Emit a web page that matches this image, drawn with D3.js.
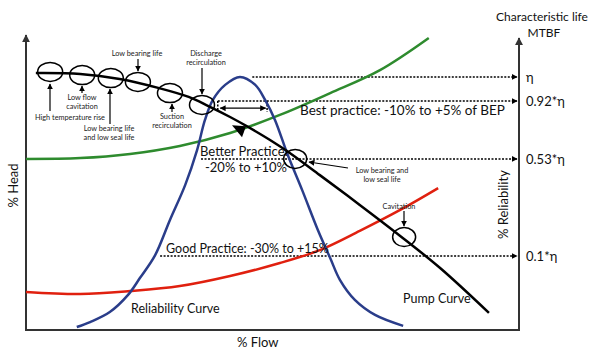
<!DOCTYPE html>
<html lang="en">
  <head>
    <meta charset="UTF-8" />
    <title>Pump Curve and Reliability</title>
    <script src="https://d3js.org/d3.v7.min.js"></script>
    <style>
      body {
        margin: 0;
        background-color: #fff;
        font-family: Lato, "Open Sans", sans-serif;
      }
      .curve {
        fill: none;
        stroke-width: 2.5;
      }
      .axis-line {
        stroke: #333;
        stroke-width: 2;
      }
      .dotted {
        stroke: #000;
        stroke-width: 1.5;
        stroke-dasharray: 2, 1.5;
      }
      .small {
        font-size: 7.3px;
        fill: #222;
      }
      .big {
        font-size: 12.5px;
        fill: #111;
      }
    </style>
  </head>
  <body>
    <div class="chart"></div>

    <script>
      // curves, in % flow / % of axis height
      const pumpFlow = [2, 11, 19, 27, 33, 37, 41.4, 45.4, 49.5, 53.5, 59.6, 67.7, 75.9, 84, 93.9];
      const pumpHead = [87.1, 86.8, 85.1, 82, 79, 75.9, 72.2, 68.5, 64.4, 60, 52.5, 42.4, 31.9, 21, 5.8];

      const relFlow = [10.3, 13, 17, 20.7, 23.1, 26.2, 29.2, 32.3, 34.7, 36.3, 37.9, 40.4, 43.4, 46.5, 48.5, 50.5, 53.1, 56, 59.2, 61.7, 63.7, 66.7, 70.8, 76.5];
      const relValue = [1, 2.7, 6.1, 11.9, 17.6, 25.4, 37.3, 49.2, 61, 71.2, 78, 83.1, 85.8, 83.1, 78, 71.2, 59.3, 47.5, 33.9, 24.4, 16.9, 10.2, 5.1, 1.4];

      const greenFlow = [0, 11, 21.1, 31.2, 41.4, 51.5, 61.7, 71.8, 81.7];
      const greenValue = [58, 58.3, 59.7, 62.4, 66.8, 72.9, 80.3, 88.1, 99];

      const redFlow = [0, 11, 21.1, 31.2, 41.4, 51.5, 59.6, 67.7, 75.9, 83.6];
      const redValue = [12.9, 12.2, 13.2, 14.9, 18.3, 22.7, 27.1, 33.6, 40.7, 48.1];

      // MTBF levels on the right axis
      const levelLabels = ["η", "0.92*η", "0.53*η", "0.1*η"];
      const levelValues = [85.8, 77.6, 58, 25.1];
      const levelStart = [45.9, 38.9, 35.5, 27.2];

      // failure zones marked on the pump curve
      const zoneFlow = [4.9, 11.4, 17.2, 22.7, 29.2, 35.7, 54.6, 76.7];
      const zoneHead = [87.5, 86.4, 85.4, 84.1, 80.3, 76.3, 58, 31.5];

      const x = d3.scaleLinear().domain([0, 100]).range([26, 519]);
      const y = d3.scaleLinear().domain([0, 100]).range([330, 35]);

      const svg = d3
        .select(".chart")
        .append("svg")
        .attr("width", 600)
        .attr("height", 352);

      const defs = svg.append("defs");
      [
        ["arrow", "#000", 6],
        ["axisArrow", "#333", 8],
      ].forEach(([id, color, size]) => {
        defs
          .append("marker")
          .attr("id", id)
          .attr("viewBox", "0 0 10 10")
          .attr("refX", 9)
          .attr("refY", 5)
          .attr("markerWidth", size)
          .attr("markerHeight", size)
          .attr("markerUnits", "userSpaceOnUse")
          .attr("orient", "auto-start-reverse")
          .append("path")
          .attr("d", "M0,0 L10,5 L0,10 z")
          .attr("fill", color);
      });

      // axes
      svg.append("line").attr("class", "axis-line")
        .attr("x1", x(0)).attr("y1", y(0)).attr("x2", x(0)).attr("y2", y(100))
        .attr("marker-end", "url(#axisArrow)");
      svg.append("line").attr("class", "axis-line")
        .attr("x1", x(0) - 1).attr("y1", y(0)).attr("x2", x(100) + 1).attr("y2", y(0));
      svg.append("line").attr("class", "axis-line")
        .attr("x1", x(100)).attr("y1", y(0)).attr("x2", x(100)).attr("y2", y(99))
        .attr("marker-end", "url(#axisArrow)");

      svg.append("text").attr("class", "big").style("font-size", "13px")
        .attr("transform", `translate(${x(0) - 8},${y(49)}) rotate(-90)`)
        .attr("text-anchor", "middle").text("% Head");
      svg.append("text").attr("class", "big").style("font-size", "13px")
        .attr("x", x(47)).attr("y", y(0) + 17)
        .attr("text-anchor", "middle").text("% Flow");
      svg.append("text").attr("class", "big").style("font-size", "13px")
        .attr("transform", `translate(${x(100) - 11},${y(42.5)}) rotate(-90)`)
        .attr("text-anchor", "middle").text("% Reliability");
      svg.append("text").attr("class", "big").style("font-size", "12px")
        .attr("x", 542).attr("y", 21)
        .attr("text-anchor", "middle").text("Characteristic life");
      svg.append("text").attr("class", "big").style("font-size", "12px")
        .attr("x", 544).attr("y", 37)
        .attr("text-anchor", "middle").text("MTBF");

      // dotted MTBF levels
      levelValues.forEach((v, i) => {
        svg.append("line").attr("class", "dotted")
          .attr("x1", x(levelStart[i])).attr("y1", y(v))
          .attr("x2", x(100) - 2).attr("y2", y(v))
          .attr("marker-end", "url(#arrow)");
        svg.append("text").attr("class", "big").style("font-size", "13px")
          .attr("x", x(100) + 7).attr("y", y(v) + 5)
          .text(levelLabels[i]);
      });

      // BEP bracket
      svg.append("line").attr("class", "dotted")
        .attr("x1", x(38.9)).attr("y1", y(77.6)).attr("x2", x(38.9)).attr("y2", y(74.2));
      svg.append("line").attr("class", "dotted").style("stroke-dasharray", null)
        .attr("x1", x(48.9)).attr("y1", y(77.6)).attr("x2", x(48.9)).attr("y2", y(73.9));
      svg.append("line").attr("stroke", "#000").attr("stroke-width", 1.3)
        .attr("x1", x(39.4)).attr("y1", y(75.2)).attr("x2", x(48.6)).attr("y2", y(75.2))
        .attr("marker-start", "url(#arrow)").attr("marker-end", "url(#arrow)");

      const line = d3
        .line()
        .x((d) => x(d[0]))
        .y((d) => y(d[1]))
        .curve(d3.curveCatmullRom);

      const curves = [
        { f: greenFlow, v: greenValue, color: "#2e8b2e" },
        { f: redFlow, v: redValue, color: "#e0200f" },
        { f: relFlow, v: relValue, color: "#2a3d8a" },
        { f: pumpFlow, v: pumpHead, color: "#000" },
      ];
      curves.forEach((c) => {
        svg.append("path").attr("class", "curve")
          .attr("d", line(d3.zip(c.f, c.v)))
          .style("stroke", c.color);
      });

      // direction mark on the pump curve
      const tx = x(42.8), ty = y(70.8);
      svg.append("path")
        .attr("d", `M${tx - 5},${ty + 4} L${tx + 9},${ty + 5} L${tx + 5},${ty + 16} Z`)
        .attr("fill", "#000");

      // zone circles
      zoneFlow.forEach((f, i) => {
        svg.append("ellipse")
          .attr("cx", x(f)).attr("cy", y(zoneHead[i]))
          .attr("rx", i < 6 ? 12.5 : 11.5).attr("ry", 9.5)
          .attr("fill", "none").attr("stroke", "#000").attr("stroke-width", 1.5);
      });

      // small annotations: text lines, text centre, arrow from -> to (pixels)
      const notes = [
        { t: ["High temperature rise"], at: [70, 120], a: [50, 111, 50, 84] },
        { t: ["Low flow", "cavitation"], at: [82, 100], a: [82, 93, 82, 86] },
        { t: ["Low bearing life", "and low seal life"], at: [109, 131], a: [110, 124, 110, 89] },
        { t: ["Low bearing life"], at: [137, 56], a: [138, 59, 138, 71] },
        { t: ["Discharge", "recirculation"], at: [206, 56], a: [202, 68, 202, 94] },
        { t: ["Suction", "recirculation"], at: [172, 119], a: [172, 112, 172, 104] },
        { t: ["Low bearing and", "low seal life"], at: [382, 173], a: [348, 168, 309, 162] },
        { t: ["Cavitation"], at: [399, 209], a: [404, 211, 404, 226] },
      ];
      notes.forEach((n) => {
        const tEl = svg.append("text").attr("class", "small").attr("text-anchor", "middle");
        n.t.forEach((s, j) => {
          tEl.append("tspan").attr("x", n.at[0]).attr("y", n.at[1] + j * 9).text(s);
        });
        svg.append("line").attr("stroke", "#000").attr("stroke-width", 1.2)
          .attr("x1", n.a[0]).attr("y1", n.a[1]).attr("x2", n.a[2]).attr("y2", n.a[3])
          .attr("marker-end", "url(#arrow)");
      });

      // larger labels
      const labels = [
        ["Best practice: -10% to +5% of BEP", 300, 115, 13.5],
        ["Better Practice:", 200, 156, 13],
        ["-20% to +10%", 205, 172, 13],
        ["Good Practice: -30% to +15%", 166, 253, 12.5],
        ["Reliability Curve", 131, 313, 12.5],
        ["Pump Curve", 403, 303, 12.5],
      ];
      labels.forEach(([s, lx, ly, fs]) => {
        svg.append("text").attr("class", "big").style("font-size", fs + "px")
          .attr("x", lx).attr("y", ly).text(s);
      });
    </script>
  </body>
</html>
